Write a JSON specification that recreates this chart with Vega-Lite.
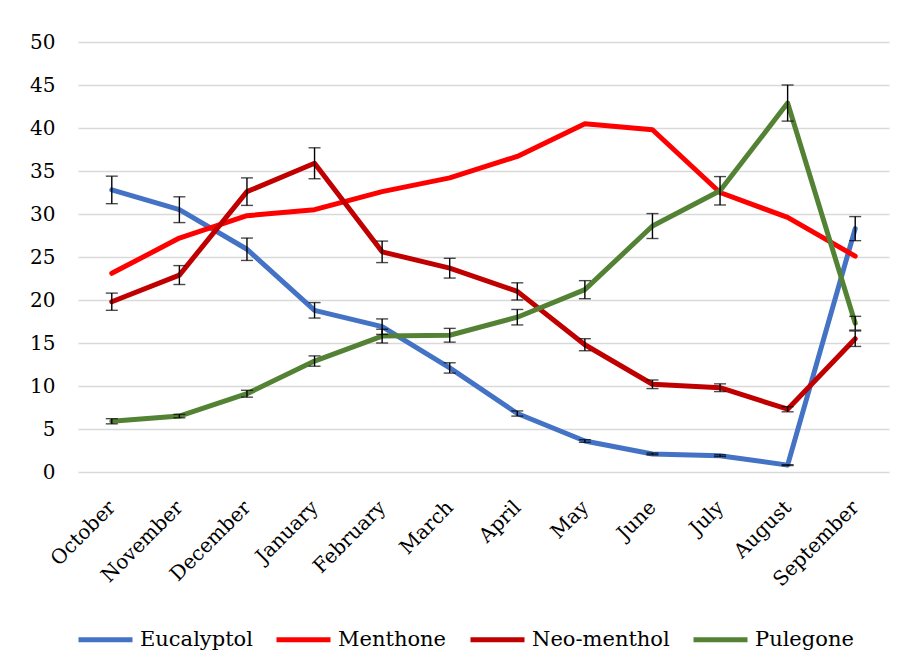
{
  "$schema": "https://vega.github.io/schema/vega-lite/v6.json",
  "width": 811,
  "height": 430,
  "autosize": {"type": "none"},
  "padding": {"left": 78, "top": 42, "right": 16, "bottom": 198},
  "background": "white",
  "config": {
    "view": {"stroke": null},
    "font": "DejaVu Serif"
  },
  "data": {
    "values": [
      {"month": "October", "compound": "Eucalyptol", "value": 32.8, "err": 1.6},
      {"month": "November", "compound": "Eucalyptol", "value": 30.5, "err": 1.5},
      {"month": "December", "compound": "Eucalyptol", "value": 25.9, "err": 1.3},
      {"month": "January", "compound": "Eucalyptol", "value": 18.8, "err": 0.9},
      {"month": "February", "compound": "Eucalyptol", "value": 16.9, "err": 0.9},
      {"month": "March", "compound": "Eucalyptol", "value": 12.1, "err": 0.6},
      {"month": "April", "compound": "Eucalyptol", "value": 6.8, "err": 0.3},
      {"month": "May", "compound": "Eucalyptol", "value": 3.6, "err": 0.15},
      {"month": "June", "compound": "Eucalyptol", "value": 2.1, "err": 0.1},
      {"month": "July", "compound": "Eucalyptol", "value": 1.9, "err": 0.1},
      {"month": "August", "compound": "Eucalyptol", "value": 0.8, "err": 0.05},
      {"month": "September", "compound": "Eucalyptol", "value": 28.3, "err": 1.4},
      {"month": "October", "compound": "Menthone", "value": 23.1, "err": null},
      {"month": "November", "compound": "Menthone", "value": 27.2, "err": null},
      {"month": "December", "compound": "Menthone", "value": 29.8, "err": null},
      {"month": "January", "compound": "Menthone", "value": 30.5, "err": null},
      {"month": "February", "compound": "Menthone", "value": 32.6, "err": null},
      {"month": "March", "compound": "Menthone", "value": 34.2, "err": null},
      {"month": "April", "compound": "Menthone", "value": 36.7, "err": null},
      {"month": "May", "compound": "Menthone", "value": 40.5, "err": null},
      {"month": "June", "compound": "Menthone", "value": 39.8, "err": null},
      {"month": "July", "compound": "Menthone", "value": 32.5, "err": null},
      {"month": "August", "compound": "Menthone", "value": 29.6, "err": null},
      {"month": "September", "compound": "Menthone", "value": 25.1, "err": null},
      {"month": "October", "compound": "Neo-menthol", "value": 19.8, "err": 1.0},
      {"month": "November", "compound": "Neo-menthol", "value": 22.9, "err": 1.1},
      {"month": "December", "compound": "Neo-menthol", "value": 32.6, "err": 1.6},
      {"month": "January", "compound": "Neo-menthol", "value": 35.9, "err": 1.8},
      {"month": "February", "compound": "Neo-menthol", "value": 25.6, "err": 1.25},
      {"month": "March", "compound": "Neo-menthol", "value": 23.7, "err": 1.15},
      {"month": "April", "compound": "Neo-menthol", "value": 21.0, "err": 1.0},
      {"month": "May", "compound": "Neo-menthol", "value": 14.8, "err": 0.7},
      {"month": "June", "compound": "Neo-menthol", "value": 10.2, "err": 0.5},
      {"month": "July", "compound": "Neo-menthol", "value": 9.8, "err": 0.45},
      {"month": "August", "compound": "Neo-menthol", "value": 7.3, "err": 0.3},
      {"month": "September", "compound": "Neo-menthol", "value": 15.5, "err": 0.9},
      {"month": "October", "compound": "Pulegone", "value": 5.9, "err": 0.3},
      {"month": "November", "compound": "Pulegone", "value": 6.5, "err": 0.2},
      {"month": "December", "compound": "Pulegone", "value": 9.1, "err": 0.4},
      {"month": "January", "compound": "Pulegone", "value": 12.9, "err": 0.6},
      {"month": "February", "compound": "Pulegone", "value": 15.8, "err": 0.8},
      {"month": "March", "compound": "Pulegone", "value": 15.9, "err": 0.8},
      {"month": "April", "compound": "Pulegone", "value": 18.0, "err": 0.9},
      {"month": "May", "compound": "Pulegone", "value": 21.2, "err": 1.05},
      {"month": "June", "compound": "Pulegone", "value": 28.6, "err": 1.45},
      {"month": "July", "compound": "Pulegone", "value": 32.7, "err": 1.65},
      {"month": "August", "compound": "Pulegone", "value": 42.9, "err": 2.1},
      {"month": "September", "compound": "Pulegone", "value": 17.3, "err": 0.8}
    ]
  },
  "encoding": {
    "x": {
      "field": "month",
      "type": "nominal",
      "sort": ["October", "November", "December", "January", "February", "March", "April", "May", "June", "July", "August", "September"],
      "scale": {"type": "point", "padding": 0.5},
      "axis": {
        "title": null,
        "domain": false,
        "ticks": false,
        "grid": false,
        "labelAngle": -45,
        "labelAlign": "right",
        "labelBaseline": "middle",
        "labelPadding": 32,
        "labelFontSize": 20,
        "labelColor": "#000000",
        "labelFont": "DejaVu Serif"
      }
    },
    "y": {
      "field": "value",
      "type": "quantitative",
      "scale": {"domain": [0, 50], "nice": false},
      "axis": {
        "title": null,
        "domain": false,
        "ticks": false,
        "values": [0, 5, 10, 15, 20, 25, 30, 35, 40, 45, 50],
        "labelPadding": 23,
        "labelFontSize": 20,
        "labelColor": "#000000",
        "labelFont": "DejaVu Serif",
        "gridColor": "#d9d9d9",
        "gridWidth": 1.5
      }
    }
  },
  "layer": [
    {
      "mark": {"type": "line", "strokeWidth": 5, "strokeCap": "round", "strokeJoin": "round"},
      "encoding": {
        "color": {
          "field": "compound",
          "type": "nominal",
          "scale": {
            "domain": ["Eucalyptol", "Menthone", "Neo-menthol", "Pulegone"],
            "range": ["#4472C4", "#FF0000", "#C00000", "#548235"]
          },
          "legend": {
            "title": null,
            "orient": "none",
            "direction": "horizontal",
            "legendX": -2,
            "legendY": 568,
            "padding": 0,
            "symbolType": "stroke",
            "symbolSize": 2916,
            "symbolStrokeWidth": 5,
            "labelFontSize": 21,
            "labelFont": "DejaVu Serif",
            "labelColor": "#000000",
            "labelOffset": 5,
            "columnPadding": 13
          }
        }
      }
    },
    {
      "transform": [{"filter": "datum.err != null"}],
      "mark": {"type": "errorbar", "ticks": {"size": 12}, "thickness": 1.4, "color": "#000000"},
      "encoding": {
        "yError": {"field": "err"}
      }
    }
  ]
}
